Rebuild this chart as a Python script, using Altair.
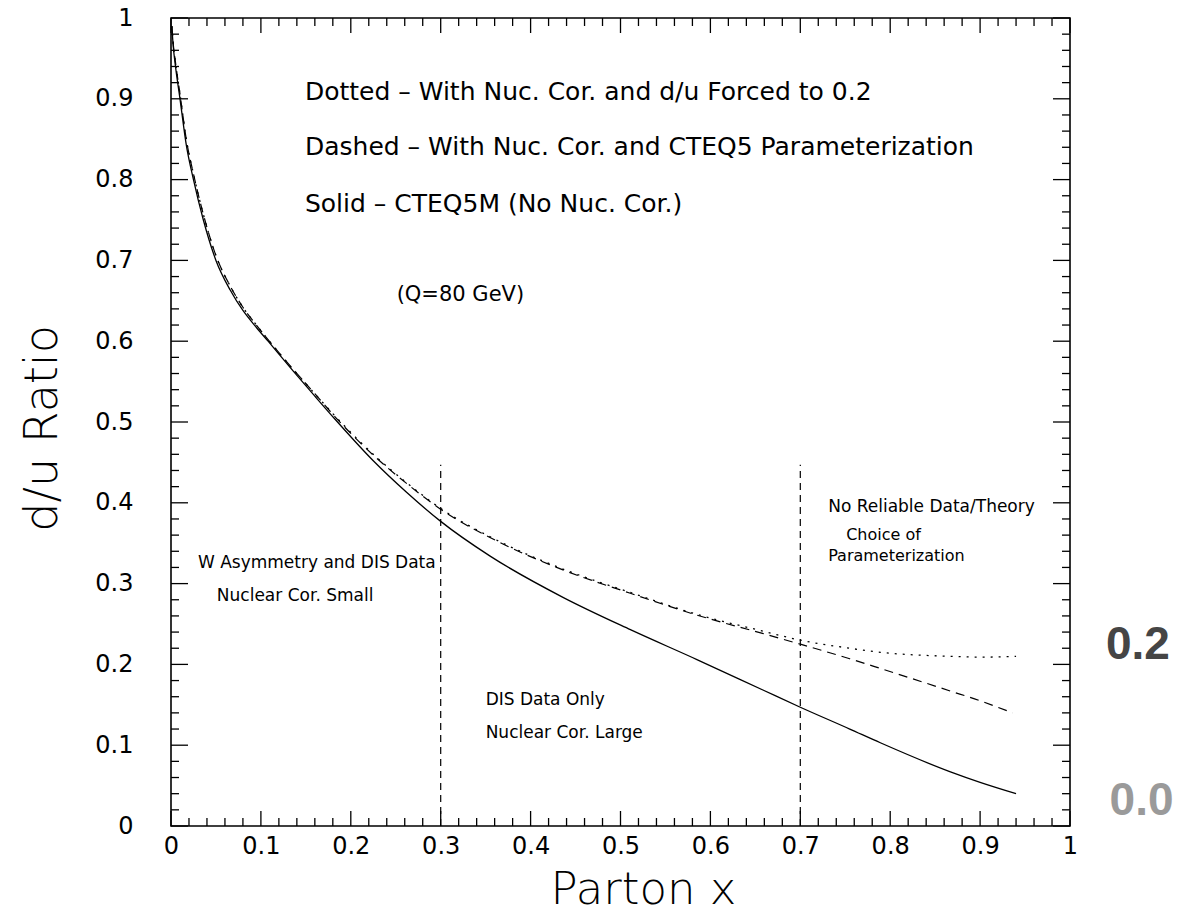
import altair as alt
import pandas as pd

# ---- curve data ----
solid_x = [0.001, 0.0025, 0.005, 0.010, 0.017, 0.025, 0.036, 0.050, 0.066, 0.080, 0.095, 0.108,
           0.136, 0.160, 0.182, 0.225, 0.262, 0.300, 0.355, 0.436, 0.511, 0.585, 0.659, 0.700,
           0.755, 0.789, 0.867, 0.900, 0.940]
solid_y = [0.988, 0.965, 0.940, 0.900, 0.843, 0.800, 0.750, 0.700, 0.663, 0.638, 0.617, 0.600,
           0.563, 0.532, 0.504, 0.452, 0.413, 0.377, 0.334, 0.283, 0.243, 0.206, 0.168, 0.147,
           0.120, 0.103, 0.067, 0.054, 0.040]

dashed_x = [0.001, 0.0025, 0.005, 0.010, 0.017, 0.025, 0.036, 0.050, 0.066, 0.080, 0.095, 0.108,
            0.136, 0.160, 0.182, 0.225, 0.262, 0.300, 0.362, 0.436, 0.511, 0.585, 0.659, 0.700,
            0.755, 0.789, 0.867, 0.900, 0.936]
dashed_y = [0.990, 0.968, 0.945, 0.906, 0.850, 0.807, 0.757, 0.706, 0.668, 0.642, 0.620, 0.602,
            0.565, 0.535, 0.507, 0.459, 0.424, 0.392, 0.353, 0.317, 0.288, 0.261, 0.238, 0.225,
            0.207, 0.195, 0.167, 0.155, 0.140]

dotted_x = [0.001, 0.0025, 0.005, 0.010, 0.017, 0.025, 0.036, 0.050, 0.066, 0.080, 0.095, 0.108,
            0.136, 0.160, 0.182, 0.225, 0.262, 0.300, 0.362, 0.436, 0.511, 0.585, 0.659, 0.700,
            0.755, 0.789, 0.867, 0.900, 0.940]
dotted_y = [0.990, 0.968, 0.945, 0.906, 0.850, 0.807, 0.757, 0.706, 0.668, 0.642, 0.620, 0.602,
            0.565, 0.535, 0.508, 0.460, 0.425, 0.393, 0.354, 0.318, 0.289, 0.262, 0.241, 0.230,
            0.220, 0.215, 0.210, 0.209, 0.210]

# region boundaries (vertical dashed lines)
boundary_x = [0.3, 0.7]
boundary_bottom = [0.0, 0.0]
boundary_top = [0.447, 0.447]

# tick values
major_ticks = [0, 0.1, 0.2, 0.3, 0.4, 0.5, 0.6, 0.7, 0.8, 0.9, 1.0]
minor_ticks = [round(i * 0.02, 2) for i in range(1, 50) if i % 5 != 0]

# annotations
ann_text = ["Dotted \u2013 With Nuc. Cor. and d/u Forced to 0.2",
            "Dashed \u2013 With Nuc. Cor. and CTEQ5 Parameterization",
            "Solid \u2013 CTEQ5M (No Nuc. Cor.)",
            "(Q=80 GeV)",
            "W Asymmetry and DIS Data",
            "Nuclear Cor. Small",
            "DIS Data Only",
            "Nuclear Cor. Large",
            "No Reliable Data/Theory",
            "Choice of",
            "Parameterization"]
ann_x = [0.149, 0.149, 0.149, 0.251, 0.030, 0.051, 0.350, 0.350, 0.731, 0.751, 0.731]
ann_y = [0.908, 0.840, 0.770, 0.657, 0.326, 0.285, 0.156, 0.115, 0.395, 0.360, 0.334]
ann_size = [25, 25, 25, 21, 17, 17, 17, 17, 17, 16, 16]

side_text = ["0.2", "0.0"]
side_x = [1.040, 1.044]
side_y = [0.224, 0.031]
side_color = ["#454545", "#9a9a9a"]

W, H = 899, 808
FONT = "DejaVu Sans"

xs = alt.Scale(domain=[0, 1], nice=False, zero=False)
ys = alt.Scale(domain=[0, 1], nice=False, zero=False)

x_axis = alt.Axis(values=major_ticks, format="~g", ticks=False, domain=False, grid=False,
                  labelFont=FONT, labelFontSize=24, labelColor="black", labelPadding=8,
                  labelFlush=False, labelOverlap=False,
                  title="Parton x", titleFont=FONT, titleFontSize=45, titleFontWeight=200,
                  titleColor="black", titleX=472, titleY=63, titleBaseline="middle")
y_axis = alt.Axis(values=major_ticks, format="~g", ticks=False, domain=False, grid=False,
                  labelFont=FONT, labelFontSize=24, labelColor="black", labelPadding=38,
                  labelFlush=False, labelOverlap=False,
                  title="d/u Ratio", titleFont=FONT, titleFontSize=46, titleFontWeight=200,
                  titleColor="black", titleX=-129, titleY=410, titleAngle=-90,
                  titleBaseline="middle")


def X(f):
    return alt.X(f, type="quantitative", scale=xs, axis=x_axis)


def Y(f):
    return alt.Y(f, type="quantitative", scale=ys, axis=y_axis)


solid_df = pd.DataFrame({"x": solid_x, "y": solid_y})
dashed_df = pd.DataFrame({"x": dashed_x, "y": dashed_y})
dotted_df = pd.DataFrame({"x": dotted_x, "y": dotted_y})

solid = alt.Chart(solid_df).mark_line(color="black", strokeWidth=1.3, interpolate="monotone").encode(
    x=X("x"), y=Y("y"))
dashed = alt.Chart(dashed_df).mark_line(color="black", strokeWidth=1.2, strokeDash=[9, 6],
                                        interpolate="monotone").encode(x=X("x"), y=Y("y"))
dotted = alt.Chart(dotted_df).mark_line(color="black", strokeWidth=1.3, strokeDash=[2, 6],
                                        interpolate="monotone").encode(x=X("x"), y=Y("y"))

bdf = pd.DataFrame({"bx": boundary_x, "b0": boundary_bottom, "b1": boundary_top})
bounds = alt.Chart(bdf).mark_rule(color="black", strokeWidth=1.2, strokeDash=[7, 5]).encode(
    x=X("bx"), y=Y("b0"), y2="b1")

maj = pd.DataFrame({"t": major_ticks})
mnr = pd.DataFrame({"t": minor_ticks})


def tick_layers(df, lx, ly):
    bottom = alt.Chart(df).mark_rule(color="black", strokeWidth=1.3).encode(
        x=X("t"), y=alt.value(H), y2=alt.value(H - lx))
    top = alt.Chart(df).mark_rule(color="black", strokeWidth=1.3).encode(
        x=X("t"), y=alt.value(0), y2=alt.value(lx))
    left = alt.Chart(df).mark_rule(color="black", strokeWidth=1.3).encode(
        y=Y("t"), x=alt.value(0), x2=alt.value(ly))
    right = alt.Chart(df).mark_rule(color="black", strokeWidth=1.3).encode(
        y=Y("t"), x=alt.value(W), x2=alt.value(W - ly))
    return [bottom, top, left, right]


ticks = tick_layers(maj, 15, 17) + tick_layers(mnr, 8, 8)

adf = pd.DataFrame({"text": ann_text, "x": ann_x, "y": ann_y, "fs": ann_size})
ann = alt.Chart(adf).mark_text(align="left", baseline="middle", font=FONT, color="black").encode(
    x=X("x"), y=Y("y"), text="text:N", size=alt.Size("fs:Q", scale=None, legend=None))

sdf = pd.DataFrame({"text": side_text, "x": side_x, "y": side_y, "c": side_color})
side = alt.Chart(sdf).mark_text(align="left", baseline="middle", font="Liberation Sans",
                                fontWeight="bold", fontSize=46).encode(
    x=X("x"), y=Y("y"), text="text:N", color=alt.Color("c:N", scale=None, legend=None))

chart = alt.layer(solid, dashed, dotted, bounds, *ticks, ann, side).properties(
    width=W, height=H,
    autosize=alt.AutoSizeParams(type="none"),
    padding={"left": 171, "top": 18, "right": 119, "bottom": 88},
    background="white",
).configure_view(stroke="black", strokeWidth=1.6)

chart.save("out.html", embed_options={"renderer": "svg", "actions": False})
